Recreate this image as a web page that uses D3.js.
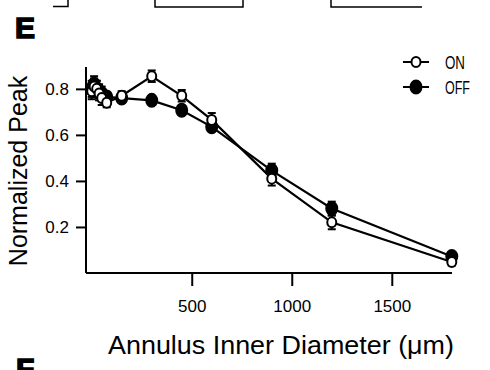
<!DOCTYPE html>
<html><head><meta charset="utf-8">
<script src="https://cdn.jsdelivr.net/npm/d3@7"></script>
<style>
html,body{margin:0;padding:0;background:#fff;}
svg{display:block;}
text{fill:#000;}
</style></head>
<body>
<svg id="chart" width="490" height="370"></svg>
<script>
const diameters = [0, 12, 25, 37, 50, 75, 150, 300, 450, 600, 900, 1200, 1800];
const onPeak  = [0.79, 0.81, 0.80, 0.78, 0.76, 0.74, 0.77, 0.855, 0.77, 0.665, 0.41, 0.22, 0.048];
const onErr   = [0.035, 0.035, 0.035, 0.03, 0.03, 0.02, 0.02, 0.025, 0.025, 0.03, 0.03, 0.03, 0.015];
const offPeak = [0.80, 0.82, 0.80, 0.79, 0.78, 0.765, 0.76, 0.75, 0.707, 0.635, 0.445, 0.28, 0.072];
const offErr  = [0.035, 0.035, 0.035, 0.03, 0.03, 0.02, 0.02, 0.01, 0.02, 0.02, 0.03, 0.03, 0.01];
const xTicks = [500, 1000, 1500];
const yTicks = [0.2, 0.4, 0.6, 0.8];
const seriesNames = ["ON", "OFF"];

const svg = d3.select("#chart");
const x = d3.scaleLinear().domain([-28.5, 1801]).range([86, 452]);
const y = d3.scaleLinear().domain([0, 0.895]).range([273, 67]);

// panel letters and remnants of previous panel
svg.append("text").attr("x", 15).attr("y", 38).attr("font-family", "Liberation Sans, Arial, sans-serif")
  .attr("font-weight", "bold").attr("font-size", 30).attr("stroke", "#000").attr("stroke-width", 1.6).text("E");
svg.append("text").attr("x", 16).attr("y", 379).attr("font-family", "Liberation Sans, Arial, sans-serif")
  .attr("font-weight", "bold").attr("font-size", 30).attr("stroke", "#000").attr("stroke-width", 1.6).text("F");
const deco = svg.append("g").attr("fill", "none").attr("stroke", "#000").attr("stroke-width", 1.5);
deco.append("path").attr("d", "M53,6.5H68V0");
deco.append("path").attr("d", "M155,0V7H243V0");
deco.append("path").attr("d", "M331,0V7H422");

// axes
const yAxis = d3.axisLeft(y).tickValues(yTicks).tickSize(10).tickPadding(7).tickFormat(d3.format(".1f"));
const gy = svg.append("g").attr("transform", "translate(86,0)").call(yAxis);
const xAxis = d3.axisBottom(x).tickValues(xTicks).tickSize(13).tickPadding(14).tickFormat(d3.format("d"));
const gx = svg.append("g").attr("transform", "translate(0,273)").call(xAxis);
[gx, gy].forEach(g => {
  g.select(".domain").attr("stroke-width", 2).attr("stroke", "#000");
  g.selectAll(".tick line").attr("stroke-width", 2).attr("stroke", "#000");
  g.selectAll(".tick text").attr("font-family", "Liberation Sans, Arial, sans-serif").attr("font-size", 17).attr("fill", "#000");
});
gy.select(".domain").attr("d", "M0,67V273");
gx.select(".domain").attr("d", "M86,0H452");

// axis titles
svg.append("text").attr("transform", "translate(27,171) rotate(-90)").attr("text-anchor", "middle")
  .attr("font-family", "Liberation Sans, Arial, sans-serif").attr("font-size", 25).text("Normalized Peak");
svg.append("text").attr("x", 281).attr("y", 354).attr("text-anchor", "middle")
  .attr("font-family", "Liberation Sans, Arial, sans-serif").attr("font-size", 25)
  .attr("textLength", 346).attr("lengthAdjust", "spacingAndGlyphs")
  .text("Annulus Inner Diameter (\u03BCm)");

const plot = svg.append("g");
const line = d3.line().x(d => x(d[0])).y(d => y(d[1]));
const series = [
  {name: "OFF", vals: offPeak, err: offErr, filled: true},
  {name: "ON", vals: onPeak, err: onErr, filled: false}
];
series.forEach(s => {
  const pts = diameters.map((d, i) => [d, s.vals[i], s.err[i]]);
  plot.append("path").datum(pts).attr("d", line).attr("fill", "none").attr("stroke", "#000").attr("stroke-width", 2.2);
  const eb = plot.append("g").attr("stroke", "#000").attr("stroke-width", 2);
  pts.forEach(p => {
    const cx = x(p[0]);
    eb.append("line").attr("x1", cx).attr("x2", cx).attr("y1", y(p[1] - p[2])).attr("y2", y(p[1] + p[2]));
    eb.append("line").attr("x1", cx - 4).attr("x2", cx + 4).attr("y1", y(p[1] + p[2])).attr("y2", y(p[1] + p[2]));
    eb.append("line").attr("x1", cx - 4).attr("x2", cx + 4).attr("y1", y(p[1] - p[2])).attr("y2", y(p[1] - p[2]));
  });
  plot.append("g").selectAll("ellipse").data(pts).join("ellipse")
    .attr("cx", d => x(d[0])).attr("cy", d => y(d[1]))
    .attr("rx", s.filled ? 5.5 : 4.5).attr("ry", s.filled ? 6.5 : 5)
    .attr("fill", s.filled ? "#000" : "#fff")
    .attr("stroke", "#000").attr("stroke-width", 2);
});

// legend
const leg = svg.append("g");
seriesNames.forEach((name, i) => {
  const ly = 62 + i * 25;
  leg.append("line").attr("x1", 403).attr("x2", 429).attr("y1", ly).attr("y2", ly).attr("stroke", "#000").attr("stroke-width", 2);
  leg.append("ellipse").attr("cx", 416).attr("cy", ly).attr("rx", name === "ON" ? 4.5 : 5.5).attr("ry", name === "ON" ? 5 : 6.5)
    .attr("fill", name === "ON" ? "#fff" : "#000").attr("stroke", "#000").attr("stroke-width", 2);
  leg.append("text").attr("x", 445).attr("y", ly + 6.5).attr("font-family", "Liberation Sans, Arial, sans-serif")
    .attr("font-size", 18).attr("textLength", name === "ON" ? 20 : 25).attr("lengthAdjust", "spacingAndGlyphs").text(name);
});
</script>
</body></html>
